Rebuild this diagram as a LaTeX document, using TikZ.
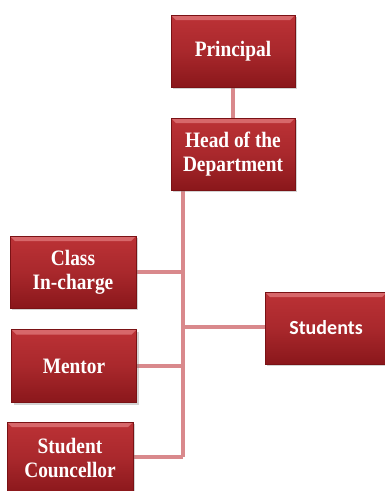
\documentclass[tikz,border=0pt]{standalone}
\usepackage{fontspec}
\setmainfont{Liberation Serif}
\newfontfamily\hdfont[FakeStretch=0.88]{Liberation Serif}
\newfontfamily\calib{Carlito}
\usetikzlibrary{shadows,backgrounds}
\definecolor{boxtop}{HTML}{BC3236}
\definecolor{boxmid}{HTML}{A9282C}
\definecolor{boxbot}{HTML}{8A171B}
\definecolor{boxrim}{HTML}{7A1215}
\definecolor{boxhi}{HTML}{D7676A}
\definecolor{linkred}{HTML}{D9898C}
\begin{document}
\begin{tikzpicture}[x=1pt, y=-1pt,
  every node/.style={font=\hdfont\fontsize{22}{24}\selectfont\bfseries},
  org/.style={draw=boxrim, line width=0.6pt, top color=boxtop, bottom color=boxbot, middle color=boxmid,
    minimum width=124pt, minimum height=72pt, inner sep=0pt, align=center, text=white,
    drop shadow={opacity=0.35, shadow xshift=2pt, shadow yshift=-2pt},
    path picture={\fill[boxhi] (path picture bounding box.north west) -- (path picture bounding box.north east)
      -- ([xshift=-5pt,yshift=-5pt]path picture bounding box.north east)
      -- ([xshift=5pt,yshift=-5pt]path picture bounding box.north west) -- cycle;}},
  link/.style={draw=linkred, line width=3.5pt}]
\useasboundingbox (0,0) rectangle (385,491);
\node[org] (prin) at (233,51) {Principal};
\node[org] (head) at (233,154) {Head of the\\Department};
\node[org, minimum width=126pt] (cls) at (73,272) {Class\\In-charge};
\node[org, minimum width=125pt, minimum height=73pt] (ment) at (74,366) {Mentor};
\node[org, minimum width=126pt] (sc) at (70,458) {Student\\Councellor};
\node[org, minimum width=122pt, font=\calib\fontsize{20}{24}\selectfont\bfseries] (stud) at (326,328) {Students};
\coordinate (jn) at (183,457);
\begin{scope}[on background layer]
\draw[link] (prin) -- (head);
\draw[link] (head.south -| jn) -- (jn);
\draw[link] (cls.east) -- (cls.east -| jn);
\draw[link] (ment.east) -- (ment.east -| jn);
\draw[link] (sc.east |- jn) -- (jn);
\draw[link] (stud.west |- 0,327) -- (jn |- 0,327);
\end{scope}
\end{tikzpicture}
\end{document}
